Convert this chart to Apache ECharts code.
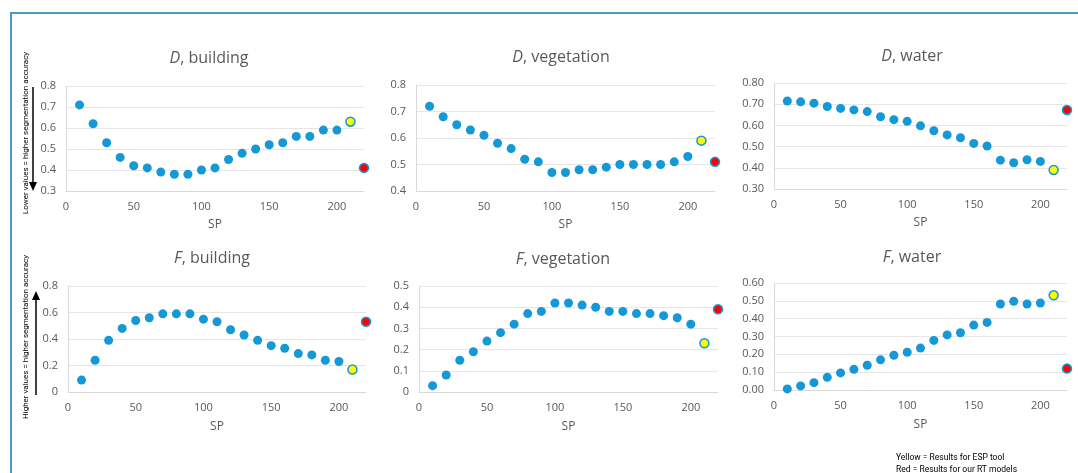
<!DOCTYPE html>
<html>
<head>
<meta charset="utf-8">
<script src="https://cdn.jsdelivr.net/npm/echarts@6/dist/echarts.min.js"></script>
<style>
  html, body { margin: 0; padding: 0; background: #fff; }
  #chart { width: 1078px; height: 473px; }
</style>
</head>
<body>
<div id="chart"></div>
<script>
  // SP values (blue points); yellow = ESP tool, red = our RT models
  var sp = [10, 20, 30, 40, 50, 60, 70, 80, 90, 100, 110, 120, 130, 140, 150, 160, 170, 180, 190, 200];
  var spEsp = 210;
  var spRt = 220;

  var dBuilding = [0.71, 0.62, 0.53, 0.46, 0.42, 0.41, 0.39, 0.38, 0.38, 0.40, 0.41, 0.45, 0.48, 0.50, 0.52, 0.53, 0.56, 0.56, 0.59, 0.59];
  var dBuildingEsp = 0.63, dBuildingRt = 0.41;

  var dVegetation = [0.72, 0.68, 0.65, 0.63, 0.61, 0.58, 0.56, 0.52, 0.51, 0.47, 0.47, 0.48, 0.48, 0.49, 0.50, 0.50, 0.50, 0.50, 0.51, 0.53];
  var dVegetationEsp = 0.59, dVegetationRt = 0.51;

  var dWater = [0.715, 0.711, 0.705, 0.689, 0.680, 0.673, 0.665, 0.641, 0.627, 0.619, 0.598, 0.575, 0.555, 0.542, 0.515, 0.503, 0.436, 0.424, 0.438, 0.430];
  var dWaterEsp = 0.39, dWaterRt = 0.673;

  var fBuilding = [0.09, 0.24, 0.39, 0.48, 0.54, 0.56, 0.59, 0.59, 0.59, 0.55, 0.53, 0.47, 0.43, 0.39, 0.35, 0.33, 0.29, 0.28, 0.24, 0.23];
  var fBuildingEsp = 0.17, fBuildingRt = 0.53;

  var fVegetation = [0.03, 0.08, 0.15, 0.19, 0.24, 0.28, 0.32, 0.37, 0.38, 0.42, 0.42, 0.41, 0.40, 0.38, 0.38, 0.37, 0.37, 0.36, 0.35, 0.32];
  var fVegetationEsp = 0.23, fVegetationRt = 0.39;

  var fWater = [0.006, 0.023, 0.041, 0.071, 0.096, 0.116, 0.139, 0.169, 0.195, 0.212, 0.235, 0.278, 0.309, 0.321, 0.364, 0.379, 0.482, 0.497, 0.482, 0.488];
  var fWaterEsp = 0.531, fWaterRt = 0.12;

  var textColor = '#595959';
  var blue = '#1599D6';
  var font = 'Open Sans';

  // one entry per panel: data + where it sits
  var panels = [
    { metric: 'D', name: 'building',   vals: dBuilding,   esp: dBuildingEsp,   rt: dBuildingRt,   ymin: 0.3, ymax: 0.8, step: 0.1, dec: 1, grid: [66, 86, 298, 105],  tx: 209, ty: 58 },
    { metric: 'D', name: 'vegetation', vals: dVegetation, esp: dVegetationEsp, rt: dVegetationRt, ymin: 0.4, ymax: 0.8, step: 0.1, dec: 1, grid: [416, 85, 299, 106], tx: 561, ty: 57 },
    { metric: 'D', name: 'water',      vals: dWater,      esp: dWaterEsp,      rt: dWaterRt,      ymin: 0.3, ymax: 0.8, step: 0.1, dec: 2, grid: [774, 83, 293, 106], tx: 912, ty: 56 },
    { metric: 'F', name: 'building',   vals: fBuilding,   esp: fBuildingEsp,   rt: fBuildingRt,   ymin: 0,   ymax: 0.8, step: 0.2, dec: 1, grid: [68, 286, 298, 106], tx: 212, ty: 258 },
    { metric: 'F', name: 'vegetation', vals: fVegetation, esp: fVegetationEsp, rt: fVegetationRt, ymin: 0,   ymax: 0.5, step: 0.1, dec: 1, grid: [419, 286, 299, 106], tx: 563, ty: 259 },
    { metric: 'F', name: 'water',      vals: fWater,      esp: fWaterEsp,      rt: fWaterRt,      ymin: 0,   ymax: 0.6, step: 0.1, dec: 2, grid: [774, 283, 293, 107], tx: 912, ty: 257 }
  ];

  var grids = [], xAxes = [], yAxes = [], series = [], graphics = [];

  panels.forEach(function (p, i) {
    grids.push({ left: p.grid[0], top: p.grid[1], width: p.grid[2], height: p.grid[3] });

    xAxes.push({
      gridIndex: i, type: 'value', min: 0, max: 220, interval: 50,
      axisLine: { show: true, onZero: false, lineStyle: { color: '#D9D9D9' } },
      axisTick: { show: false },
      splitLine: { show: false },
      axisLabel: { color: textColor, fontSize: 11, fontFamily: font, margin: 10, showMaxLabel: false },
      name: 'SP', nameLocation: 'middle', nameGap: i < 3 ? 28 : 29,
      nameTextStyle: { color: textColor, fontSize: 12, fontFamily: font }
    });

    yAxes.push({
      gridIndex: i, type: 'value', min: p.ymin, max: p.ymax, interval: p.step,
      axisLine: { show: true, onZero: false, lineStyle: { color: '#D9D9D9' } },
      axisTick: { show: false },
      splitLine: { show: true, lineStyle: { color: '#E6E6E6' } },
      axisLabel: {
        color: textColor, fontSize: 11, fontFamily: font, margin: 10,
        formatter: (function (dec) {
          return function (v) {
            if (dec === 2) return v.toFixed(2);
            return v === 0 ? '0' : v.toFixed(1);
          };
        })(p.dec)
      }
    });

    series.push({
      type: 'scatter', xAxisIndex: i, yAxisIndex: i, symbolSize: 9,
      itemStyle: { color: blue, opacity: 1 },
      data: sp.map(function (x, k) { return [x, p.vals[k]]; })
    });
    series.push({
      type: 'scatter', xAxisIndex: i, yAxisIndex: i, symbolSize: 9,
      itemStyle: { color: '#FFFF00', borderColor: blue, borderWidth: 1.5, opacity: 1 },
      data: [[spEsp, p.esp]]
    });
    series.push({
      type: 'scatter', xAxisIndex: i, yAxisIndex: i, symbolSize: 9,
      itemStyle: { color: '#FF0000', borderColor: blue, borderWidth: 1.5, opacity: 1 },
      data: [[spRt, p.rt]]
    });

    graphics.push({
      type: 'text', x: p.tx, y: p.ty, silent: true,
      style: {
        text: '{i|' + p.metric + '}, ' + p.name,
        fill: textColor, fontSize: 16, fontFamily: font,
        align: 'center', verticalAlign: 'middle',
        rich: { i: { fontStyle: 'italic', fontSize: 16, fontFamily: font, fill: textColor } }
      }
    });
  });

  // outer frame
  graphics.push({
    type: 'rect', silent: true,
    shape: { x: 11, y: 13, width: 1100, height: 520 },
    style: { fill: 'none', stroke: '#5299C2', lineWidth: 2 }
  });

  // side notes with arrows
  graphics.push({
    type: 'text', x: 26, y: 133, rotation: Math.PI / 2, silent: true,
    style: { text: 'Lower values = higher segmentation accuracy', fill: '#000', fontSize: 8, fontFamily: 'Roboto', align: 'center', verticalAlign: 'middle' }
  });
  graphics.push({
    type: 'line', silent: true,
    shape: { x1: 33, y1: 87, x2: 33, y2: 184 },
    style: { stroke: '#000', lineWidth: 1.5 }
  });
  graphics.push({
    type: 'polygon', silent: true,
    shape: { points: [[29, 182], [37, 182], [33, 191]] },
    style: { fill: '#000' }
  });

  graphics.push({
    type: 'text', x: 26, y: 337, rotation: Math.PI / 2, silent: true,
    style: { text: 'Higher values = higher segmentation accuracy', fill: '#000', fontSize: 8, fontFamily: 'Roboto', align: 'center', verticalAlign: 'middle' }
  });
  graphics.push({
    type: 'line', silent: true,
    shape: { x1: 36, y1: 298, x2: 36, y2: 395 },
    style: { stroke: '#000', lineWidth: 1.5 }
  });
  graphics.push({
    type: 'polygon', silent: true,
    shape: { points: [[32, 300], [40, 300], [36, 291]] },
    style: { fill: '#000' }
  });

  // footnote
  graphics.push({
    type: 'text', x: 896, y: 458, silent: true,
    style: { text: 'Yellow = Results for ESP tool', fill: '#000', fontSize: 8.5, fontFamily: 'Roboto', align: 'left', verticalAlign: 'middle' }
  });
  graphics.push({
    type: 'text', x: 896, y: 470, silent: true,
    style: { text: 'Red = Results for our RT models', fill: '#000', fontSize: 8.5, fontFamily: 'Roboto', align: 'left', verticalAlign: 'middle' }
  });

  var myChart = echarts.init(document.getElementById('chart'), null, { renderer: 'canvas' });
  myChart.setOption({
    animation: false,
    backgroundColor: '#fff',
    grid: grids,
    xAxis: xAxes,
    yAxis: yAxes,
    series: series,
    graphic: graphics
  });
</script>
</body>
</html>
